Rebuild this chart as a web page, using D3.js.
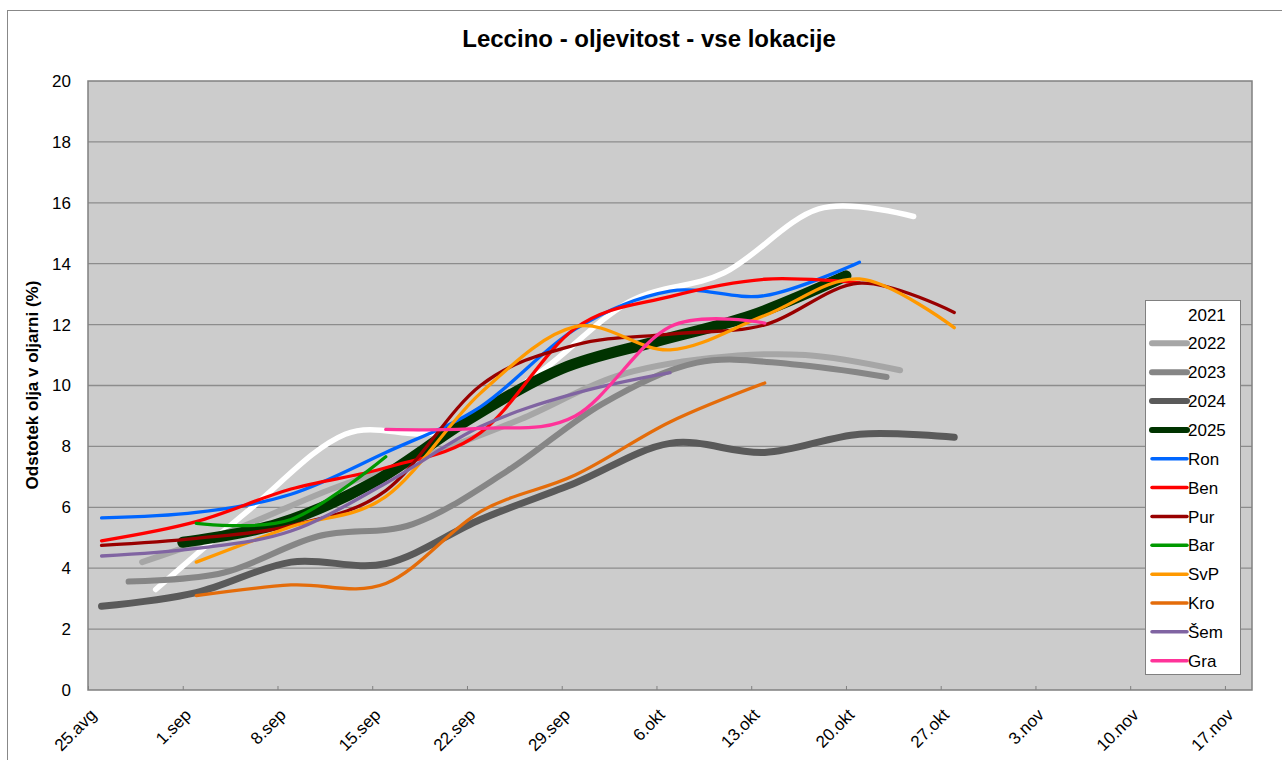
<!DOCTYPE html>
<html>
  <head>
    <meta charset="UTF-8">
    <title>Leccino - oljevitost</title>
    <style type="text/css">
      body { margin: 0; background: #fff; }
      text { font-family: "Liberation Sans", Arial, sans-serif; fill: #000; }
    </style>
  </head>
  <body>
    <script src="https://cdn.jsdelivr.net/npm/d3@7"></script>
    <script>

      // Data (date, oil %) per season / location
      var s2021 = [["2025-08-30",3.3],["2025-09-06",5.95],["2025-09-13",8.4],["2025-09-20",8.5],["2025-09-27",10.3],["2025-10-04",12.75],["2025-10-11",13.7],["2025-10-18",15.8],["2025-10-25",15.55]];
      var s2022 = [["2025-08-29",4.2],["2025-09-05",5.3],["2025-09-12",6.6],["2025-09-19",7.7],["2025-09-26",8.9],["2025-10-03",10.3],["2025-10-10",10.9],["2025-10-17",11.0],["2025-10-24",10.5]];
      var s2023 = [["2025-08-28",3.56],["2025-09-04",3.85],["2025-09-11",5.05],["2025-09-18",5.45],["2025-09-25",7.2],["2025-10-02",9.4],["2025-10-09",10.75],["2025-10-16",10.7],["2025-10-23",10.28]];
      var s2024 = [["2025-08-26",2.75],["2025-09-02",3.2],["2025-09-09",4.2],["2025-09-16",4.15],["2025-09-23",5.6],["2025-09-30",6.8],["2025-10-07",8.1],["2025-10-14",7.8],["2025-10-21",8.4],["2025-10-28",8.3]];
      var s2025 = [["2025-09-01",4.85],["2025-09-08",5.45],["2025-09-15",6.8],["2025-09-22",8.85],["2025-09-29",10.55],["2025-10-06",11.45],["2025-10-13",12.3],["2025-10-20",13.6]];
      var ron = [["2025-08-26",5.65],["2025-09-02",5.83],["2025-09-09",6.43],["2025-09-16",7.8],["2025-09-23",9.3],["2025-09-30",11.85],["2025-10-07",13.1],["2025-10-14",12.95],["2025-10-21",14.05]];
      var ben = [["2025-08-26",4.9],["2025-09-02",5.53],["2025-09-09",6.6],["2025-09-16",7.3],["2025-09-23",8.45],["2025-09-30",11.88],["2025-10-07",12.92],["2025-10-14",13.49],["2025-10-21",13.37]];
      var pur = [["2025-08-26",4.75],["2025-09-02",4.98],["2025-09-09",5.4],["2025-09-16",6.55],["2025-09-23",10.0],["2025-09-30",11.33],["2025-10-07",11.69],["2025-10-14",11.99],["2025-10-21",13.36],["2025-10-28",12.4]];
      var bar = [["2025-09-02",5.47],["2025-09-09",5.6],["2025-09-16",7.66]];
      var svp = [["2025-09-02",4.2],["2025-09-09",5.36],["2025-09-16",6.35],["2025-09-23",9.75],["2025-09-30",11.93],["2025-10-07",11.17],["2025-10-14",12.3],["2025-10-21",13.5],["2025-10-28",11.9]];
      var kro = [["2025-09-02",3.1],["2025-09-09",3.45],["2025-09-16",3.5],["2025-09-23",5.86],["2025-09-30",7.06],["2025-10-07",8.8],["2025-10-14",10.08]];
      var sem = [["2025-08-26",4.4],["2025-09-02",4.65],["2025-09-09",5.22],["2025-09-16",6.79],["2025-09-23",8.65],["2025-09-30",9.74],["2025-10-07",10.42]];
      var gra = [["2025-09-16",8.56],["2025-09-23",8.59],["2025-09-30",9.0],["2025-10-07",11.93],["2025-10-14",12.05]];

      var seriesNames = ["2021","2022","2023","2024","2025","Ron","Ben","Pur","Bar","SvP","Kro","Šem","Gra"];
      var seriesData = [s2021, s2022, s2023, s2024, s2025, ron, ben, pur, bar, svp, kro, sem, gra];

      var xDomain = ["2025-08-25", "2025-11-19"];
      var tickDates = ["2025-08-25","2025-09-01","2025-09-08","2025-09-15","2025-09-22","2025-09-29","2025-10-06","2025-10-13","2025-10-20","2025-10-27","2025-11-03","2025-11-10","2025-11-17"];
      var tickLabels = ["25.avg","1.sep","8.sep","15.sep","22.sep","29.sep","6.okt","13.okt","20.okt","27.okt","3.nov","10.nov","17.nov"];
      var yTicks = [0,2,4,6,8,10,12,14,16,18,20];

      // Styles
      var colors = ["#ffffff","#a6a6a6","#868686","#5a5a5a","#003300","#0066ff","#ff0000","#990000","#009900","#ff9900","#e46c0a","#8064a2","#ff3399"];
      var widths = [5.5, 6, 6, 7, 11, 3.3, 3.3, 3.3, 3.3, 3.3, 3.3, 3.3, 3.3];
      var legendWidths = [6, 6, 6, 6, 6, 3.5, 3.5, 3.5, 3.5, 3.5, 3.5, 3.5, 3.5];

      var parse = d3.timeParse("%Y-%m-%d");

      var svgWidth = 1282,
          svgHeight = 760,
          plot = {left: 88, top: 81, right: 1252, bottom: 690};

      var svg = d3.select("body")
                  .append("svg")
                  .attr("width", svgWidth)
                  .attr("height", svgHeight);

      // outer frame
      svg.append("rect")
         .attr("x", 7.5).attr("y", 10.5)
         .attr("width", 1300).attr("height", 800)
         .attr("fill", "#fff")
         .attr("stroke", "#888").attr("stroke-width", 1);

      var xScale = d3.scaleTime()
                     .domain(xDomain.map(parse))
                     .range([plot.left, plot.right]);

      var yScale = d3.scaleLinear()
                     .domain([0, 20])
                     .range([plot.bottom, plot.top]);

      // plot background
      svg.append("rect")
         .attr("x", plot.left).attr("y", plot.top)
         .attr("width", plot.right - plot.left)
         .attr("height", plot.bottom - plot.top)
         .attr("fill", "#cccccc");

      // gridlines
      svg.append("g")
         .selectAll("line")
         .data(yTicks.slice(1, -1))
         .enter()
         .append("line")
         .attr("x1", plot.left).attr("x2", plot.right)
         .attr("y1", d => yScale(d)).attr("y2", d => yScale(d))
         .attr("stroke", "#8c8c8c").attr("stroke-width", 1.3);

      // y axis
      var yAxis = d3.axisLeft(yScale).tickValues(yTicks).tickSize(0).tickPadding(17);
      var gY = svg.append("g")
                  .attr("transform", "translate(" + plot.left + ",0)")
                  .call(yAxis);
      gY.select(".domain").remove();
      gY.selectAll("text").style("font-size", "17px").attr("fill", "#000");

      // x axis with small inner ticks
      var xAxis = d3.axisBottom(xScale)
                    .tickValues(tickDates.map(parse))
                    .tickFormat((d, i) => tickLabels[i])
                    .tickSizeInner(-4)
                    .tickSizeOuter(0);
      var gX = svg.append("g")
                  .attr("transform", "translate(0," + plot.bottom + ")")
                  .call(xAxis);
      gX.select(".domain").remove();
      gX.selectAll(".tick line").attr("stroke", "#808080");
      gX.selectAll("text")
        .style("font-size", "17px")
        .attr("fill", "#000")
        .attr("text-anchor", "end")
        .attr("y", 0).attr("dy", 0)
        .attr("transform", "translate(9,26) rotate(-45)");

      // plot border
      svg.append("rect")
         .attr("x", plot.left).attr("y", plot.top)
         .attr("width", plot.right - plot.left)
         .attr("height", plot.bottom - plot.top)
         .attr("fill", "none")
         .attr("stroke", "#808080").attr("stroke-width", 1.5);

      // lines
      var line = d3.line()
                   .x(d => xScale(parse(d[0])))
                   .y(d => yScale(d[1]))
                   .curve(d3.curveCardinal.tension(0));

      svg.append("g")
         .selectAll("path")
         .data(seriesData)
         .enter()
         .append("path")
         .attr("d", d => line(d))
         .attr("fill", "none")
         .attr("stroke", (d, i) => colors[i])
         .attr("stroke-width", (d, i) => widths[i])
         .attr("stroke-linecap", "round")
         .attr("stroke-linejoin", "round");

      // legend
      var legend = svg.append("g").attr("transform", "translate(1145,300)");
      legend.append("rect")
            .attr("x", 0.5).attr("y", 0.5)
            .attr("width", 95).attr("height", 374)
            .attr("fill", "#fff")
            .attr("stroke", "#808080").attr("stroke-width", 1);

      var rows = legend.selectAll("g.row")
                       .data(seriesNames)
                       .enter()
                       .append("g")
                       .attr("class", "row")
                       .attr("transform", (d, i) => "translate(0," + (14.5 + i * 28.85) + ")");
      rows.append("line")
          .attr("x1", 7).attr("x2", 42)
          .attr("stroke", (d, i) => colors[i])
          .attr("stroke-width", (d, i) => legendWidths[i])
          .attr("stroke-linecap", "round");
      rows.append("text")
          .attr("x", 43)
          .attr("dy", "0.36em")
          .style("font-size", "17px")
          .text(d => d);

      // title and axis title
      svg.append("text")
         .attr("x", 649).attr("y", 47)
         .attr("text-anchor", "middle")
         .style("font-size", "24px")
         .style("font-weight", "bold")
         .text("Leccino - oljevitost - vse lokacije");

      svg.append("text")
         .attr("transform", "translate(38,385) rotate(-90)")
         .attr("text-anchor", "middle")
         .style("font-size", "17px")
         .style("font-weight", "bold")
         .text("Odstotek olja v oljarni (%)");

    </script>
  </body>
</html>
